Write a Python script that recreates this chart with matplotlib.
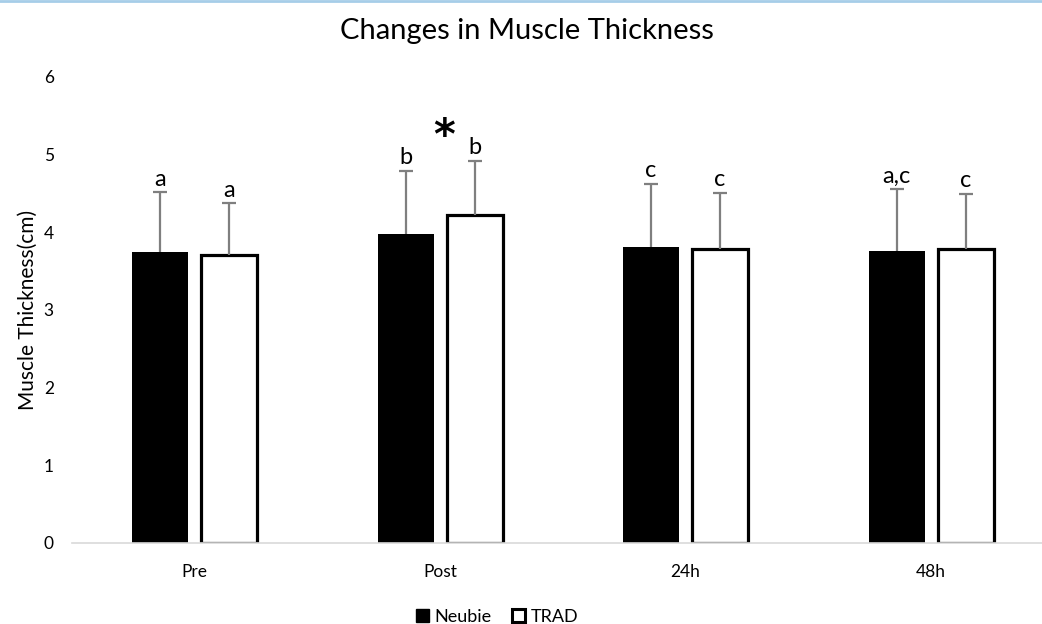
import numpy as np
import matplotlib.pyplot as plt
from matplotlib.patches import Patch
from matplotlib.lines import Line2D

plt.rcParams['font.family'] = ['Lato', 'DejaVu Sans']

timepoints = ["Pre", "Post", "24h", "48h"]
neubie = [3.74, 3.97, 3.81, 3.76]
neubie_err = [0.77, 0.82, 0.81, 0.79]
trad = [3.71, 4.22, 3.78, 3.78]
trad_err = [0.66, 0.70, 0.72, 0.71]
neubie_marks = ["a", "b", "c", "a,c"]
trad_marks = ["a", "b", "c", "c"]
star_at = "Post"

fig = plt.figure(figsize=(10.42, 6.24), dpi=100)
ax = fig.add_axes([0.0689, 0.1303, 0.9424, 0.7468])

x = np.arange(len(timepoints))
w = 0.228
off = 0.1405

ax.bar(x - off, neubie, w, color="black", zorder=2)
ax.bar(x + off, trad, w, color="white", edgecolor="black", linewidth=2.3,
       zorder=2)

# plus-only error bars: stem from bar top, cap only at the upper end
for xs, vals, errs in [(x - off, neubie, neubie_err), (x + off, trad, trad_err)]:
    tops = np.array(vals) + np.array(errs)
    ax.vlines(xs, vals, tops, color="#7f7f7f", linewidth=1.6, zorder=3)
    ax.plot(xs, tops, linestyle="none", marker="_", markersize=10,
            markeredgewidth=1.6, color="#7f7f7f", zorder=3)

for i in range(len(timepoints)):
    ax.annotate(neubie_marks[i], (x[i] - off, neubie[i] + neubie_err[i]),
                xytext=(0, 2), textcoords="offset points",
                ha="center", va="bottom", fontsize=17)
    ax.annotate(trad_marks[i], (x[i] + off, trad[i] + trad_err[i]),
                xytext=(0, 2), textcoords="offset points",
                ha="center", va="bottom", fontsize=17)

si = timepoints.index(star_at)
ax.annotate("*", (x[si], max(neubie[si] + neubie_err[si], trad[si] + trad_err[si])),
            xytext=(3, 2), textcoords="offset points",
            ha="center", va="bottom", fontsize=30, fontweight="bold",
            family="DejaVu Sans")

ax.set_xlim(-0.5, len(timepoints) - 0.5)
ax.set_ylim(0, 6)
ax.set_xticks(x)
ax.set_xticklabels(timepoints)
ax.set_yticks(range(7))
ax.tick_params(axis="both", length=0, labelsize=12.5)
ax.tick_params(axis="y", pad=13)
ax.tick_params(axis="x", pad=15)
for s in ["top", "right", "left"]:
    ax.spines[s].set_visible(False)
ax.spines["bottom"].set_color("#d9d9d9")
ax.spines["bottom"].set_linewidth(1.2)
ax.set_ylabel("Muscle Thickness(cm)", fontsize=15, labelpad=4)

fig.text(0.506, 0.950, "Changes in Muscle Thickness", ha="center", va="center",
         fontsize=21)

handles = [Patch(facecolor="black", edgecolor="black"),
           Patch(facecolor="white", edgecolor="black", linewidth=2.2)]
fig.legend(handles, ["Neubie", "TRAD"], loc="center",
           bbox_to_anchor=(0.477, 0.011), ncol=2, frameon=False, fontsize=13,
           handlelength=0.75, handleheight=0.75, handletextpad=0.3,
           columnspacing=1.1)

fig.add_artist(Line2D([0, 1], [0.998, 0.998], color="#a6cde8", linewidth=2,
                      transform=fig.transFigure))

plt.savefig("out.png", dpi=100)
